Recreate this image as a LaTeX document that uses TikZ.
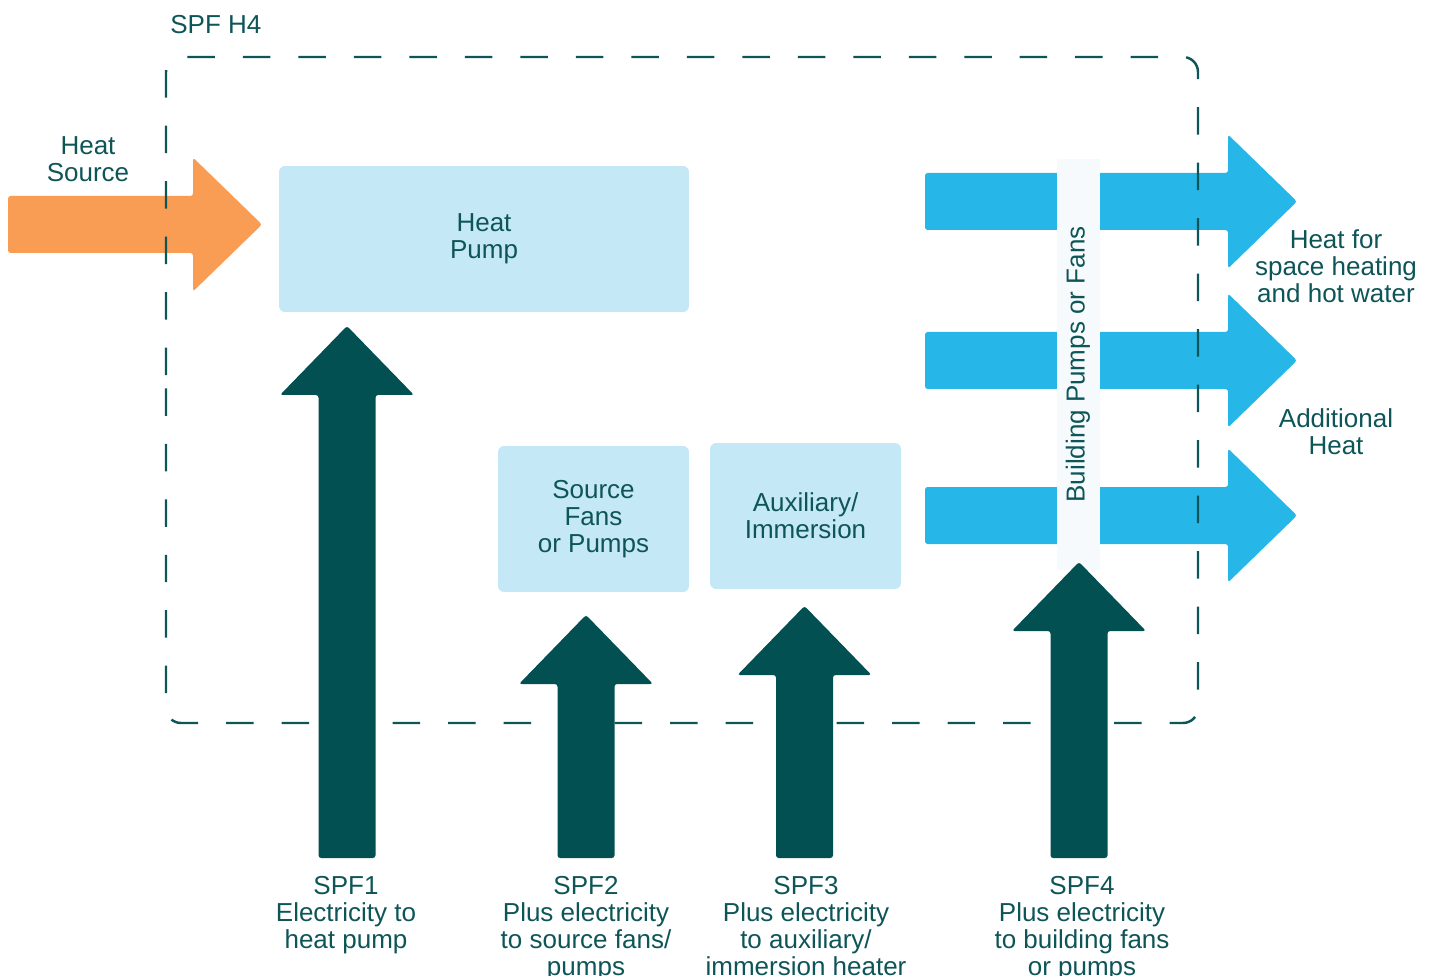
\documentclass[tikz,border=0pt]{standalone}
\usepackage{fontspec}
\setmainfont{Liberation Sans}
\usetikzlibrary{positioning, calc}

\definecolor{tealtxt}{RGB}{14,85,88}
\definecolor{tealdark}{RGB}{2,80,82}
\definecolor{boxblue}{RGB}{197,232,246}
\definecolor{flowblue}{RGB}{39,182,232}
\definecolor{srcorange}{RGB}{249,157,85}
\definecolor{stripwhite}{RGB}{246,250,252}

\newcommand{\lblfont}{\fontsize{14.8}{15.4}\selectfont}

% block arrow pointing up: x, y bottom, y tip
\newcommand{\uparrowblk}[4][tealdark]{%
  \fill[#1, rounded corners=1.5pt] ({#2-28.5},#3) -- ({#2+28.5},#3) -- ({#2+28.5},{#4+69}) -- ({#2+67},{#4+69})
    -- (#2,#4) -- ({#2-67},{#4+69}) -- ({#2-28.5},{#4+69}) -- cycle;}
% block arrow pointing right: y centre, x start, x tip
\newcommand{\rightarrowblk}[4][flowblue]{%
  \fill[#1, rounded corners=1.5pt] (#3,{#2-28.5}) -- ({#4-69},{#2-28.5}) -- ({#4-69},{#2-67}) -- (#4,#2)
    -- ({#4-69},{#2+67}) -- ({#4-69},{#2+28.5}) -- (#3,{#2+28.5}) -- cycle;}

\begin{document}
\begin{tikzpicture}[
    x=0.02cm, y=-0.02cm,
    panel/.style={rectangle, fill=boxblue, rounded corners=0.12cm, minimum width=3.82cm, minimum height=2.92cm, align=center, text=tealtxt, font=\lblfont},
    lbl/.style={align=center, text=tealtxt, font=\lblfont, inner sep=0pt},
    spflbl/.style={lbl, anchor=north},
    frame/.style={draw=tealtxt, line width=1.4pt, dash pattern=on 0.55cm off 0.56cm, rounded corners=0.3cm}
]
\useasboundingbox (0,0) rectangle (1437,976);

% Boxes
\node[panel, minimum width=8.2cm] (hp) at (484,239) {Heat\\Pump};
\node[panel] (srcfans) at (593.5,519) {Source\\Fans\\or Pumps};
\node[panel] (aux) at (805.5,516) {Auxiliary/\\Immersion};

% Heat in and heat out
\rightarrowblk[srcorange]{224.5}{8}{262}
\rightarrowblk{201.5}{925}{1297}
\rightarrowblk{360.5}{925}{1297}
\rightarrowblk{515.5}{925}{1297}

\node[rectangle, fill=stripwhite, minimum width=0.86cm, minimum height=8.22cm, inner sep=0pt] (strip) at (1078,364.5) {};
\node[lbl, rotate=90] (stripname) at (strip.center) {Building Pumps or Fans};

% System boundary
\draw[frame] (166,390) -- (166,57) -- (1198,57) -- (1198,723) -- (166,723) -- cycle;
\node[lbl, anchor=west] (boundary) at (170,25) {SPF H4};

% Electricity in
\uparrowblk{347}{858}{326}
\uparrowblk{586}{858}{615}
\uparrowblk{804.5}{858}{606}
\uparrowblk{1079}{858}{562}

% Labels
\node[lbl] (heatsrc) at (88,159) {Heat\\Source};
\node[lbl] (heatout) at (1336,266) {Heat for\\space heating\\and hot water};
\node[lbl] (addheat) at (1336,432) {Additional\\Heat};

\node[spflbl] (spf1) at (346,876) {SPF1\\Electricity to\\heat pump};
\node[spflbl] (spf2) at (586,876) {SPF2\\Plus electricity\\to source fans/\\pumps};
\node[spflbl] (spf3) at (806,876) {SPF3\\Plus electricity\\to auxiliary/\\immersion heater};
\node[spflbl] (spf4) at (1082,876) {SPF4\\Plus electricity\\to building fans\\or pumps};

\end{tikzpicture}
\end{document}
